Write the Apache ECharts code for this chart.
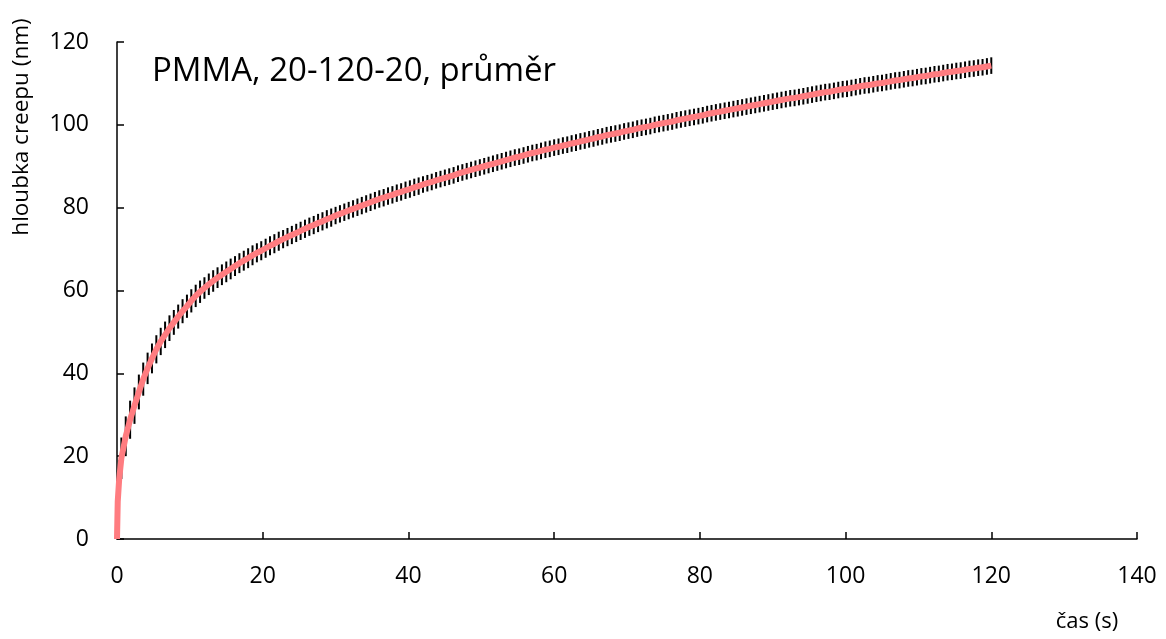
<!DOCTYPE html>
<html>
<head>
<meta charset="utf-8">
<script src="https://cdn.jsdelivr.net/npm/echarts@6/dist/echarts.min.js"></script>
<style>
html,body{margin:0;padding:0;background:#fff;}
#c{width:1166px;height:639px;}
</style>
</head>
<body>
<div id="c"></div>
<script>
const TITLE = 'PMMA, 20-120-20, průměr';
const X_NAME = 'čas (s)';
const Y_NAME = 'hloubka creepu (nm)';
const X_TICKS = [0, 20, 40, 60, 80, 100, 120, 140];
const Y_TICKS = [0, 20, 40, 60, 80, 100, 120];

const times = [
0,0.1,0.3,
0.6,1.2,1.8,2.4,3,3.6,4.2,4.8,5.4,
6,6.6,7.2,7.8,8.4,9,9.6,10.2,10.8,11.4,
12,12.6,13.2,13.8,14.4,15,15.6,16.2,16.8,17.4,
18,18.6,19.2,19.8,20.4,21,21.6,22.2,22.8,23.4,
24,24.6,25.2,25.8,26.4,27,27.6,28.2,28.8,29.4,
30,30.6,31.2,31.8,32.4,33,33.6,34.2,34.8,35.4,
36,36.6,37.2,37.8,38.4,39,39.6,40.2,40.8,41.4,
42,42.6,43.2,43.8,44.4,45,45.6,46.2,46.8,47.4,
48,48.6,49.2,49.8,50.4,51,51.6,52.2,52.8,53.4,
54,54.6,55.2,55.8,56.4,57,57.6,58.2,58.8,59.4,
60,60.6,61.2,61.8,62.4,63,63.6,64.2,64.8,65.4,
66,66.6,67.2,67.8,68.4,69,69.6,70.2,70.8,71.4,
72,72.6,73.2,73.8,74.4,75,75.6,76.2,76.8,77.4,
78,78.6,79.2,79.8,80.4,81,81.6,82.2,82.8,83.4,
84,84.6,85.2,85.8,86.4,87,87.6,88.2,88.8,89.4,
90,90.6,91.2,91.8,92.4,93,93.6,94.2,94.8,95.4,
96,96.6,97.2,97.8,98.4,99,99.6,100.2,100.8,101.4,
102,102.6,103.2,103.8,104.4,105,105.6,106.2,106.8,107.4,
108,108.6,109.2,109.8,110.4,111,111.6,112.2,112.8,113.4,
114,114.6,115.2,115.8,116.4,117,117.6,118.2,118.8,119.4,
120
];

const depth = [
0,9.0,14.5,
19.5,24.8,28.8,32.2,35.5,38.6,41.2,43.6,45.8,
47.7,49.3,50.9,52.3,53.7,55.0,56.2,57.5,58.7,59.7,
60.6,61.5,62.3,63.1,63.8,64.5,65.2,65.9,66.6,67.2,
67.8,68.5,69.1,69.6,70.2,70.8,71.3,71.9,72.4,72.9,
73.4,73.9,74.4,74.9,75.4,75.8,76.3,76.7,77.2,77.6,
78.1,78.5,78.9,79.3,79.7,80.1,80.5,80.9,81.3,81.7,
82.1,82.4,82.8,83.1,83.5,83.8,84.2,84.5,84.9,85.2,
85.6,85.9,86.2,86.6,86.9,87.2,87.5,87.8,88.2,88.5,
88.8,89.1,89.4,89.7,90.0,90.3,90.6,90.9,91.2,91.5,
91.8,92.1,92.3,92.6,92.9,93.2,93.4,93.7,94.0,94.2,
94.5,94.7,95.0,95.2,95.5,95.7,96.0,96.2,96.5,96.7,
97.0,97.2,97.5,97.7,97.9,98.1,98.4,98.6,98.8,99.1,
99.3,99.5,99.7,100.0,100.2,100.4,100.6,100.8,101.1,101.3,
101.5,101.7,101.9,102.1,102.3,102.6,102.8,103.0,103.2,103.4,
103.6,103.8,104.0,104.2,104.4,104.6,104.8,105.0,105.2,105.4,
105.6,105.8,106.0,106.2,106.4,106.5,106.7,106.9,107.1,107.3,
107.5,107.7,107.9,108.0,108.2,108.4,108.6,108.7,108.9,109.1,
109.3,109.5,109.6,109.8,110.0,110.1,110.3,110.5,110.7,110.8,
111.0,111.2,111.3,111.5,111.7,111.8,112.0,112.2,112.3,112.5,
112.7,112.8,113.0,113.1,113.3,113.5,113.6,113.8,113.9,114.1,
114.3
];

// standard deviation (nm), drawn as error bars
const stdev = [
0,3.0,4.5,
5.0,4.8,4.6,4.4,4.2,4.0,3.8,3.6,3.4,
3.3,3.2,3.1,3.0,2.9,2.9,2.8,2.8,2.7,2.7,
2.6,2.6,2.6,2.5,2.5,2.5,2.5,2.4,2.4,2.4,
2.4,2.4,2.3,2.3,2.3,2.3,2.3,2.3,2.2,2.2,
2.2,2.2,2.2,2.2,2.2,2.2,2.2,2.2,2.2,2.2,
2.1,2.1,2.1,2.1,2.1,2.1,2.1,2.1,2.1,2.1,
2.1,2.1,2.1,2.1,2.1,2.1,2.1,2.1,2.1,2.1,
2.0,2.0,2.0,2.0,2.0,2.0,2.0,2.0,2.0,2.0,
2.0,2.0,2.0,2.0,2.0,2.0,2.0,2.0,2.0,2.0,
2.0,2.0,2.0,2.0,2.0,2.0,2.0,2.0,2.0,2.0,
2.0,2.0,2.0,2.0,2.0,2.0,2.0,2.0,2.0,2.0,
2.0,2.0,2.0,2.0,2.0,2.0,2.0,2.0,2.0,2.0,
2.0,2.0,2.0,2.0,2.0,2.0,2.0,2.0,2.0,2.0,
2.0,2.0,2.0,2.0,2.0,2.0,2.0,2.0,2.0,2.0,
2.0,2.0,2.0,2.0,2.0,2.0,2.0,2.0,2.0,2.0,
2.0,2.0,2.0,2.0,2.0,2.0,2.0,2.0,2.0,2.0,
2.0,2.0,2.0,2.0,2.0,2.0,2.0,2.0,2.0,2.0,
2.0,2.0,2.0,2.0,2.0,2.0,2.0,2.0,2.0,2.0,
2.0,2.0,2.0,2.0,2.0,2.0,2.0,2.0,2.0,2.0,
2.0,2.0,2.0,2.0,2.0,2.0,2.0,2.0,2.0,2.0,
2.0
];

const FONT = "'Open Sans', 'Noto Sans', sans-serif";

const lineData = times.map((t, i) => [t, depth[i]]);
const errData = times.map((t, i) => [t, depth[i] - stdev[i], depth[i] + stdev[i]]);

const chart = echarts.init(document.getElementById('c'), null, {renderer: 'canvas'});
chart.setOption({
  animation: false,
  backgroundColor: '#ffffff',
  grid: {left: 117, right: 29, top: 42, bottom: 100, containLabel: false},
  xAxis: {
    type: 'value',
    min: X_TICKS[0], max: X_TICKS[X_TICKS.length - 1],
    interval: X_TICKS[1] - X_TICKS[0],
    axisLine: {show: true, onZero: false, lineStyle: {color: '#000', width: 1.5}},
    axisTick: {show: true, inside: true, length: 7, lineStyle: {color: '#000', width: 1.5}},
    axisLabel: {margin: 26, color: '#000', fontSize: 23, fontFamily: FONT},
    splitLine: {show: false}
  },
  yAxis: {
    type: 'value',
    min: Y_TICKS[0], max: Y_TICKS[Y_TICKS.length - 1],
    interval: Y_TICKS[1] - Y_TICKS[0],
    axisLine: {show: true, onZero: false, lineStyle: {color: '#000', width: 1.5}},
    axisTick: {show: true, inside: true, length: 7, lineStyle: {color: '#000', width: 1.5}},
    axisLabel: {margin: 28, color: '#000', fontSize: 23, fontFamily: FONT},
    splitLine: {show: false}
  },
  graphic: [
    {type: 'text', left: 152, top: 55, style: {text: TITLE, fill: '#000', font: '33px ' + FONT}},
    {type: 'text', x: 1087, y: 622,
     style: {text: X_NAME, fill: '#000', font: '22px ' + FONT, align: 'center', verticalAlign: 'middle'}},
    {type: 'text', x: 22, y: 127, rotation: Math.PI / 2,
     style: {text: Y_NAME, fill: '#000', font: '22.5px ' + FONT, align: 'center', verticalAlign: 'middle'}}
  ],
  series: [
    {
      type: 'custom',
      z: 2,
      data: errData,
      renderItem: function (params, api) {
        const x = api.value(0);
        const p1 = api.coord([x, api.value(1)]);
        const p2 = api.coord([x, api.value(2)]);
        return {
          type: 'line',
          shape: {x1: p1[0], y1: p1[1], x2: p2[0], y2: p2[1]},
          style: {stroke: '#000', lineWidth: 2}
        };
      }
    },
    {
      type: 'line',
      z: 3,
      data: lineData,
      showSymbol: false,
      smooth: false,
      lineStyle: {color: '#ff7c80', width: 6},
      clip: true
    }
  ]
});
</script>
</body>
</html>
